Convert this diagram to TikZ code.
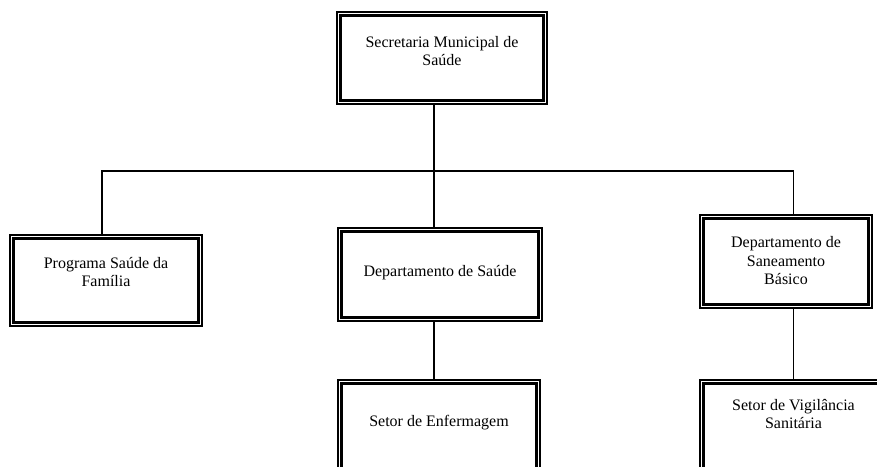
\documentclass[tikz,border=0pt]{standalone}
\usepackage{fontspec}
\setmainfont{Liberation Serif}
\tikzset{
  orgbox/.style={draw, line width=2pt, inner sep=0pt, fill=white},
  innerframe/.style={draw, line width=3pt},
  boxtext/.style={align=center, font=\fontsize{16}{18.5}\selectfont, inner sep=0pt},
  link/.style={draw, line width=1.8pt}
}
\begin{document}
\begin{tikzpicture}[x=1pt, y=1pt]
  \useasboundingbox (0,0) rectangle (877,466);
  \clip (0,0) rectangle (877,466);
  \fill[white] (0,0) rectangle (877,466);

  % organisation units (outer frame lines)
  \node[orgbox, minimum width=210pt, minimum height=92pt] (sec) at (442,408) {};
  \node[orgbox, minimum width=192pt, minimum height=91pt] (psf) at (106,185.5) {};
  \node[orgbox, minimum width=204pt, minimum height=93pt] (dsa) at (440,191.5) {};
  \node[orgbox, minimum width=172pt, minimum height=93pt] (dsb) at (786,204.5) {};
  \node[orgbox, minimum width=202pt, minimum height=94pt] (enf) at (439,39) {};
  \node[orgbox, minimum width=190pt, minimum height=94pt] (vig) at (795,39) {};

  % thick inner frame of each unit
  \foreach \n in {sec,psf,dsa,dsb,enf,vig}
    \draw[innerframe] ([shift={(4.5,-4.5)}]\n.north west) rectangle ([shift={(-4.5,4.5)}]\n.south east);

  % labels
  \node[boxtext] (tsec) at (442,415) {Secretaria Municipal de\\Saúde};
  \node[boxtext] (tpsf) at (106,194) {Programa Saúde da\\Família};
  \node[boxtext] (tdsa) at (440,193) {Departamento de Saúde};
  \node[boxtext] (tdsb) at (786,205) {Departamento de\\Saneamento\\Básico};
  \node[boxtext] (tenf) at (439,43) {Setor de Enfermagem};
  \node[boxtext] (tvig) at (793.5,52) {Setor de Vigilância\\Sanitária};

  % connector bus
  \coordinate (busL) at (101.7,295);
  \coordinate (busM) at (434,295);
  \coordinate (busR) at (793.5,295);

  \draw[link] (sec.south -| busM) -- (busM);
  \draw[link] (psf.north -| busL) -- (busL) -- (busR) -- (dsb.north -| busR);
  \draw[link] (busM) -- (dsa.north -| busM);
  \draw[link] (dsa.south -| busM) -- (enf.north -| busM);
  \draw[link] (dsb.south -| busR) -- (vig.north -| busR);
\end{tikzpicture}
\end{document}
